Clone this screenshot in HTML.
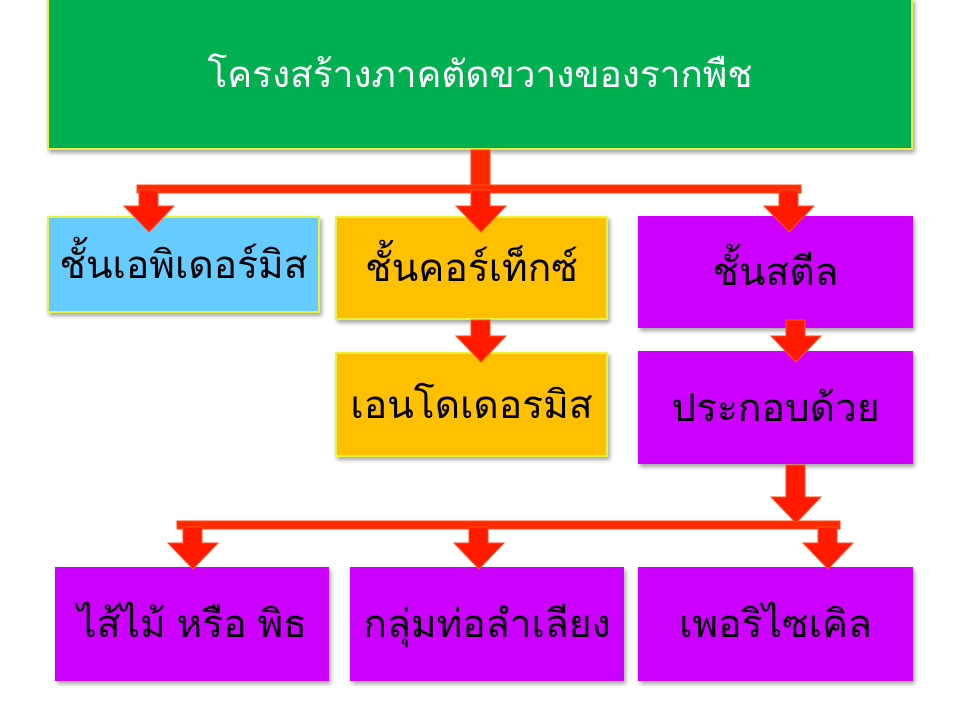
<!DOCTYPE html>
<html><head><meta charset="utf-8"><style>
body{margin:0;width:960px;height:720px;background:#fff;position:relative;overflow:hidden;font-family:"Liberation Sans","Noto Sans CJK SC",sans-serif}
.b{position:absolute;display:flex;align-items:center;justify-content:center;box-sizing:border-box;font-size:39px;color:#000;box-shadow:2px 3px 4px rgba(0,0,0,.35)}
.y{border:2px solid #e8f040}
</style></head><body>
<div class="b y" style="left:47px;top:-2px;width:866px;height:152px;background:#00B050;color:#fff;font-size:37px">โครงสร้างภาคตัดขวางของรากพืช</div>
<div class="b y" style="left:47px;top:216px;width:273px;height:97px;background:#66CCFF">ชั้นเอพิเดอร์มิส</div>
<div class="b y" style="left:335px;top:216px;width:273px;height:104px;background:#FFC000">ชั้นคอร์เท็กซ์</div>
<div class="b" style="left:638px;top:216px;width:275px;height:112px;background:#CC00FF">ชั้นสตีล</div>
<div class="b y" style="left:335px;top:352px;width:273px;height:105px;background:#FFC000">เอนโดเดอรมิส</div>
<div class="b" style="left:638px;top:351px;width:275px;height:113px;background:#CC00FF">ประกอบด้วย</div>
<div class="b" style="left:55px;top:567px;width:274px;height:114px;background:#CC00FF">ไส้ไม้ หรือ พิธ</div>
<div class="b" style="left:350px;top:567px;width:274px;height:114px;background:#CC00FF">กลุ่มท่อลำเลียง</div>
<div class="b" style="left:638px;top:567px;width:275px;height:114px;background:#CC00FF">เพอริไซเคิล</div>
<svg width="960" height="720" style="position:absolute;left:0;top:0">
<g fill="#FF2A00" stroke="#FF4A1A" stroke-width="1">
<rect x="471" y="150" width="19" height="40"/>
<rect x="137" y="185" width="664" height="8"/>
<rect x="177" y="521" width="663" height="8"/>
</g>
<g fill="#FF1A00" stroke="#FF5020" stroke-width="1">
<path d="M139 190h19v16h16l-25 26l-25-26h15z"/>
<path d="M471 190h19v16h16l-25 26l-25-26h15z"/>
<path d="M779 190h19v16h16l-25 26l-25-26h15z"/>
<path d="M471 320h19v16h16l-25 26l-25-26h15z"/>
<path d="M786 320h19v16h16l-25 26l-25-26h15z"/>
<path d="M786 465h19v32h16l-25 26l-25-26h15z"/>
<path d="M183 527h19v16h16l-25 26l-25-26h15z"/>
<path d="M469 527h19v16h16l-25 26l-25-26h15z"/>
<path d="M818 527h19v16h16l-25 26l-25-26h15z"/>
</g>
</svg>
</body></html>
